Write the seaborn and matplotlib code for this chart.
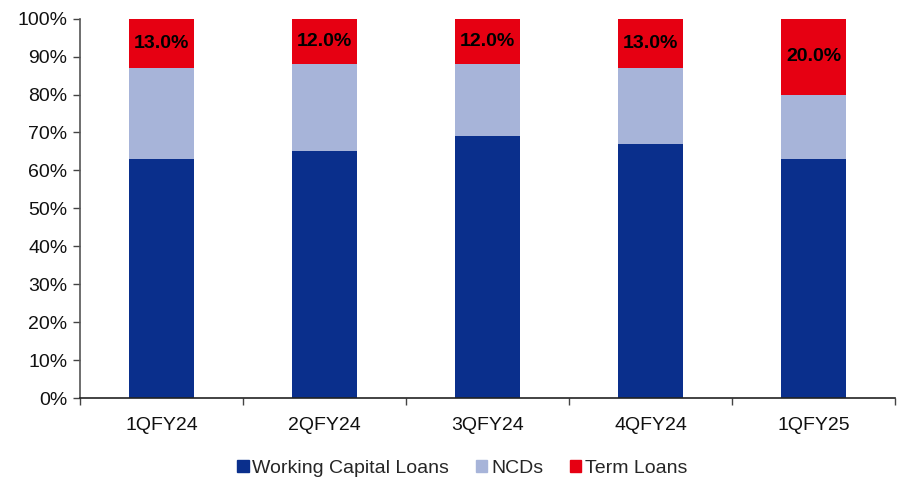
import matplotlib
matplotlib.use("Agg")
import matplotlib.pyplot as plt
import seaborn as sns
import pandas as pd
import numpy as np
from matplotlib.patches import Patch

quarters = ["1QFY24", "2QFY24", "3QFY24", "4QFY24", "1QFY25"]
working_capital = [63, 65, 69, 67, 63]
ncds = [24, 23, 19, 20, 17]
term_loans = [13, 12, 12, 13, 20]

sns.set_theme(style="white")
plt.rcParams['font.family'] = ['Liberation Sans', 'DejaVu Sans']

c_wc = "#0A2F8C"
c_ncd = "#A7B4D9"
c_tl = "#E60012"

df = pd.DataFrame({"q": quarters, "wc": working_capital, "ncd": ncds, "tl": term_loans})
df["wc_ncd"] = df["wc"] + df["ncd"]
df["total"] = df["wc_ncd"] + df["tl"]

fig = plt.figure(figsize=(9.08, 4.79), dpi=100)
ax = fig.add_axes([0.088, 0.169, 0.898, 0.792])

sns.barplot(data=df, x="q", y="total", color=c_tl, width=0.4, saturation=1, ax=ax, linewidth=0)
sns.barplot(data=df, x="q", y="wc_ncd", color=c_ncd, width=0.4, saturation=1, ax=ax, linewidth=0)
sns.barplot(data=df, x="q", y="wc", color=c_wc, width=0.4, saturation=1, ax=ax, linewidth=0)

for i, (base, tl) in enumerate(zip(df["wc_ncd"], df["tl"])):
    ax.text(i, base + tl / 2, f"{tl:.1f}%",
            ha="center", va="center", fontsize=14, fontweight="bold", color="black")

ax.set_ylim(0, 100)
ax.set_xlim(-0.5, 4.5)
ax.set_yticks(np.arange(0, 101, 10))
ax.set_yticklabels([f"{v}%" for v in range(0, 101, 10)], fontsize=14, color="#111111")
ax.set_xticks(range(len(quarters)))
ax.set_xticklabels(quarters, fontsize=14, color="#111111")
ax.set_xticks(np.arange(-0.5, 5, 1), minor=True)
ax.tick_params(axis="x", which="major", length=0, pad=14)
ax.tick_params(axis="x", which="minor", length=5, width=1, color="#444444", direction="out", bottom=True)
ax.tick_params(axis="y", length=5, width=1, color="#444444", direction="out", left=True, pad=4)
ax.set_xlabel("")
ax.set_ylabel("")

for s in ["top", "right"]:
    ax.spines[s].set_visible(False)
ax.spines["left"].set_color("#555555")
ax.spines["left"].set_linewidth(1.2)
ax.spines["bottom"].set_color("#222222")
ax.spines["bottom"].set_linewidth(1.2)

handles = [Patch(color=c_wc, label="Working Capital Loans"),
           Patch(color=c_ncd, label="NCDs"),
           Patch(color=c_tl, label="Term Loans")]
fig.legend(handles=handles, loc="lower center", bbox_to_anchor=(0.509, -0.032), ncol=3,
           frameon=False, fontsize=14, handlelength=0.6, handleheight=0.6,
           handletextpad=0.2, columnspacing=1.35)

fig.savefig("out.png", dpi=100)
